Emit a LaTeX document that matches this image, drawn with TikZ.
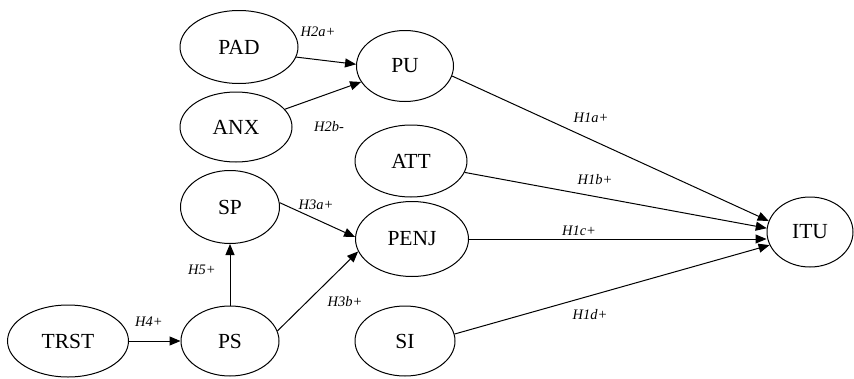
\documentclass[tikz,border=0pt]{standalone}
\usepackage{fontspec}
\setmainfont{Liberation Serif}
\usetikzlibrary{shapes.geometric,arrows.meta}
\begin{document}
\begin{tikzpicture}[x=1pt,y=-1pt,line width=1pt,
		construct/.style={ellipse,draw,inner sep=0pt,font=\fontsize{21.5}{25}\selectfont},
		hyp/.style={font=\fontsize{14.5}{17}\selectfont\itshape,inner sep=0pt},
		link/.style={-{Triangle[length=11pt,width=9pt]}}]
	\useasboundingbox (0,0) rectangle (854,378);
	% constructs
	\node[construct,minimum width=118pt,minimum height=73pt] (pad) at (239,47) {PAD};
	\node[construct,minimum width=112pt,minimum height=70pt] (anx) at (236,127) {ANX};
	\node[construct,minimum width=97pt,minimum height=71pt] (pu) at (405,66) {PU};
	\node[construct,minimum width=112pt,minimum height=72pt] (att) at (411,161) {ATT};
	\node[construct,minimum width=99pt,minimum height=73pt] (sp) at (230,207) {SP};
	\node[construct,minimum width=113pt,minimum height=75pt] (penj) at (412,239) {PENJ};
	\node[construct,minimum width=86pt,minimum height=70pt] (itu) at (810,232) {ITU};
	\node[construct,minimum width=121pt,minimum height=72pt] (trst) at (68,341) {TRST};
	\node[construct,minimum width=98pt,minimum height=70pt] (ps) at (230,341) {PS};
	\node[construct,minimum width=100pt,minimum height=70pt] (si) at (405,341) {SI};
	% paths
	\draw[link] (pad.-10) -- (pu.178);
	\draw[link] (anx.20) -- (pu.200);
	\draw[link] (pu.-12) -- (itu.165);
	\draw[link] (att.-12) -- (itu.175);
	\draw[link] (penj.east) -- (itu.west |- penj.east);
	\draw[link] (si.8) -- (itu.198);
	\draw[link] (sp.5) -- (penj.178);
	\draw[link] (ps.12) -- (penj.193);
	\draw[link] (ps.north) -- (sp.south);
	\draw[link] (trst.east) -- (ps.west);
	% hypotheses
	\node[hyp] (h2a) at (318,32) {H2a+};
	\node[hyp] (h2b) at (329,127) {H2b-};
	\node[hyp] (h1a) at (591,118) {H1a+};
	\node[hyp] (h1b) at (595,180) {H1b+};
	\node[hyp] (h1c) at (579,231) {H1c+};
	\node[hyp] (h1d) at (590,315) {H1d+};
	\node[hyp] (h3a) at (316,205) {H3a+};
	\node[hyp] (h3b) at (345,302) {H3b+};
	\node[hyp] (h5) at (202,270) {H5+};
	\node[hyp] (h4) at (149,322) {H4+};
\end{tikzpicture}
\end{document}
